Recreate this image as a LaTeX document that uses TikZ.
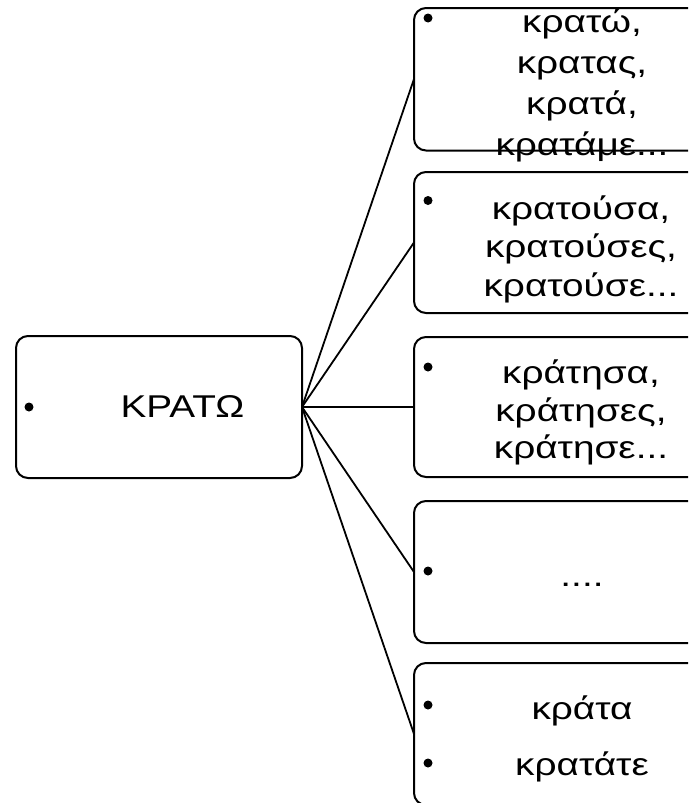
\documentclass[tikz,border=0pt]{standalone}
\usepackage{fontspec}
\setmainfont{Liberation Sans}[FakeStretch=1.23]
\begin{document}
\begin{tikzpicture}[x=1pt,y=-1pt,
  box/.style={draw=black,line width=2pt,rounded corners=12pt},
  link/.style={draw=black,line width=1.8pt},
  txt/.style={anchor=base,inner sep=0pt,font=\fontsize{31.5}{38}\selectfont},
  dot/.style={circle,fill=black,inner sep=0pt,minimum size=9pt}]
\useasboundingbox (0,0) rectangle (688,803);
\begin{scope}
\clip (0,0) rectangle (688,803);
% left box
\draw[box] (16,336) rectangle (302,478);
\coordinate (c) at (302,407);
\node[dot] (d0) at (29,407) {};
\node[txt] (t0) at (182.5,417) {ΚΡΑΤΩ};
% right boxes
\draw[box] (414,8) rectangle (704,150.5);
\draw[box] (414,172) rectangle (704,313);
\draw[box] (414,337) rectangle (704,477);
\draw[box] (414,501) rectangle (704,643);
\draw[box] (414,663) rectangle (704,805);
\coordinate (b1) at (414,79);
\coordinate (b2) at (414,242.5);
\coordinate (b3) at (414,407);
\coordinate (b4) at (414,572);
\coordinate (b5) at (414,734);
\foreach \b in {b1,b2,b3,b4,b5} \draw[link] (c) -- (\b);
% bullets
\node[dot] (d1) at (428,18) {};
\node[dot] (d2) at (428,200.5) {};
\node[dot] (d3) at (428,367) {};
\node[dot] (d4) at (428,571) {};
\node[dot] (d5) at (428,705) {};
\node[dot] (d6) at (428,763) {};
% texts
\node[txt] (t11) at (582,32) {κρατώ,};
\node[txt] (t12) at (582,73) {κρατας,};
\node[txt] (t13) at (582,114) {κρατά,};
\node[txt] (t14) at (582,155) {κρατάμε...};
\node[txt] (t21) at (581,219.5) {κρατούσα,};
\node[txt] (t22) at (581,257.7) {κρατούσες,};
\node[txt] (t23) at (581,296) {κρατούσε...};
\node[txt] (t31) at (581,383) {κράτησα,};
\node[txt] (t32) at (581,421) {κράτησες,};
\node[txt] (t33) at (581,458) {κράτησε...};
\node[txt] (t41) at (582,586) {....};
\node[txt] (t51) at (582,719) {κράτα};
\node[txt] (t52) at (582,775) {κρατάτε};
\end{scope}
\end{tikzpicture}
\end{document}
